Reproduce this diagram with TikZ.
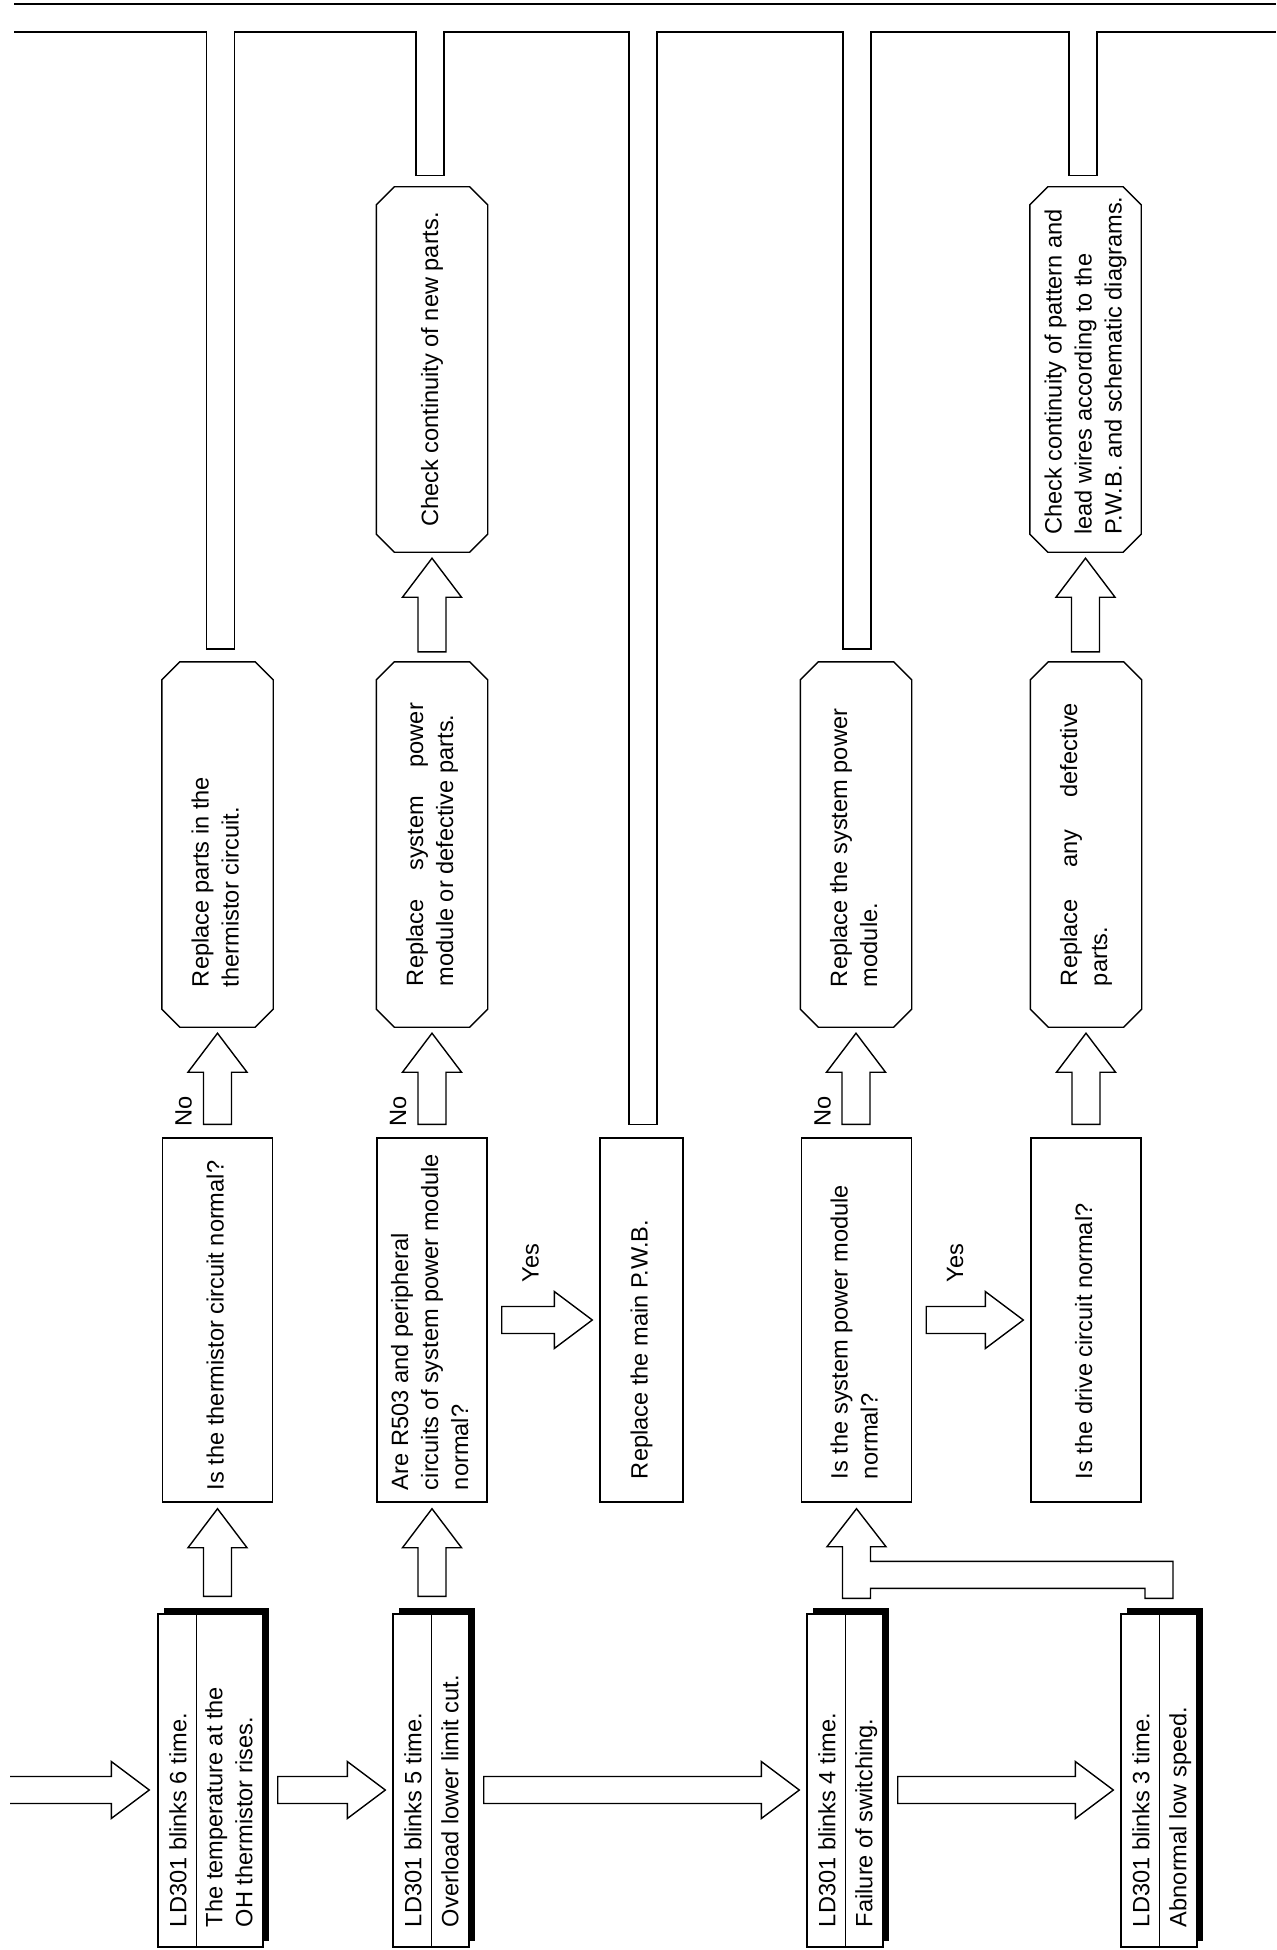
\documentclass[tikz,border=0pt]{standalone}
\usepackage{fontspec}
\setmainfont{Liberation Sans}
\usepackage{graphicx}
\usepackage{tikz}
\usetikzlibrary{calc,shadows}

\newcommand{\vlines}[1]{\rotatebox{90}{\begin{tabular}{@{}l@{}}#1\end{tabular}}}
\newcommand{\vleft}[2]{\rotatebox{90}{\makebox[#1][l]{\begin{tabular}{@{}l@{}}#2\end{tabular}}}}
\newcommand{\vjust}[2]{\rotatebox{90}{\parbox{#1}{#2}}}

\newcommand{\blockup}[3][12]{%
  \draw[blockarrow] let \p1=(#2.north), \p2=(#3.south) in
    (\x2-14pt,\y1+#1pt) -- (\x2-14pt,\y2-45pt) -- (\x2-29.5pt,\y2-45pt)
    -- (\x2,\y2-6pt) -- (\x2+29.5pt,\y2-45pt) -- (\x2+14pt,\y2-45pt)
    -- (\x2+14pt,\y1+#1pt) -- cycle;}
\newcommand{\blockright}[3][0]{%
  \draw[blockarrow] let \p1=(#2.east), \p2=(#3.west) in
    (\x1+14pt,\y2-#1pt+13.5pt) -- (\x2-45pt,\y2-#1pt+13.5pt) -- (\x2-45pt,\y2-#1pt+28.5pt)
    -- (\x2-7pt,\y2-#1pt) -- (\x2-45pt,\y2-#1pt-28.5pt) -- (\x2-45pt,\y2-#1pt-13.5pt)
    -- (\x1+14pt,\y2-#1pt-13.5pt) -- cycle;}

\tikzset{
  qbox/.style={draw, minimum width=110pt, minimum height=364pt, inner sep=0pt},
  rbox/.style={qbox, draw=none},
  ldbox/.style={draw, fill=white, minimum height=333pt, inner sep=0pt,
    drop shadow={shadow xshift=6pt, shadow yshift=6pt, fill=black, opacity=1}},
  blockarrow/.style={draw, line join=miter},
  txt/.style={inner sep=0pt}
}

\begin{document}
\begin{tikzpicture}[x=1pt, y=-1pt, line width=1.4pt, font=\fontsize{23.6}{30}\selectfont]
    \useasboundingbox (0,0) rectangle (1276,1950);

    \node[qbox] (q1) at (217.5,1320) {\vleft{340pt}{Is the thermistor circuit normal?}};
    \node[qbox] (q2) at (432,1320) {\vleft{340pt}{Are R503 and peripheral\\circuits of system power module\\normal?}};
    \node[qbox, minimum width=83pt] (pwb) at (641.5,1320) {\vleft{318pt}{Replace the main P.W.B.}};
    \node[qbox] (q3) at (856.5,1320) {\vleft{318pt}{Is the system power module\\normal?}};
    \node[qbox] (q4) at (1086,1320) {\vleft{318pt}{Is the drive circuit normal?}};

    \node[rbox] (r1) at (217.5,844.5) {\vleft{285pt}{Replace parts in the\\thermistor circuit.}};
    \node[rbox] (r2) at (432,844.5) {\vjust{283pt}{Replace system power\linebreak module or defective parts.}};
    \node[rbox] (r3) at (856,844.5) {\vleft{285pt}{Replace the system power\\module.}};
    \node[rbox] (r4) at (1086,844.5) {\vjust{283pt}{Replace any defective\linebreak parts.}};
    \node[rbox] (c1) at (432,369.5) {\vlines{Check continuity of new parts.}};
    \node[rbox] (c2) at (1085.5,369.5) {\vleft{330pt}{Check continuity of pattern and\\lead wires according to the\\P.W.B. and schematic diagrams.}};
    % cut corners
    \foreach \n in {r1,r2,r3,r4,c1,c2}
        \draw ([xshift=18pt]\n.north west) -- ([xshift=-18pt]\n.north east)
            -- ([yshift=-18pt]\n.north east) -- ([yshift=18pt]\n.south east)
            -- ([xshift=-18pt]\n.south east) -- ([xshift=18pt]\n.south west)
            -- ([yshift=18pt]\n.south west) -- ([yshift=-18pt]\n.north west) -- cycle;

    % LED blink codes
    \node[ldbox, minimum width=105pt] (ld1) at (210.5,1780.5) {};
    \node[ldbox, minimum width=76pt] (ld2) at (431,1780.5) {};
    \node[ldbox, minimum width=76pt] (ld3) at (845,1780.5) {};
    \node[ldbox, minimum width=76pt] (ld4) at (1159,1780.5) {};
    \foreach \n in {ld1,ld2,ld3,ld4}
        \draw ([xshift=39pt]\n.north west) -- ([xshift=39pt]\n.south west);

    \node[txt, anchor=south] (ld1a) at ($(ld1.south west)+(23,-20)$) {\vlines{LD301 blinks 6 time.}};
    \node[txt, anchor=south] (ld1b) at ($(ld1.south west)+(74,-20)$) {\vlines{The temperature at the\\OH thermistor rises.}};
    \node[txt, anchor=south] (ld2a) at ($(ld2.south west)+(23,-20)$) {\vlines{LD301 blinks 5 time.}};
    \node[txt, anchor=south] (ld2b) at ($(ld2.south west)+(60,-20)$) {\vlines{Overload lower limit cut.}};
    \node[txt, anchor=south] (ld3a) at ($(ld3.south west)+(23,-20)$) {\vlines{LD301 blinks 4 time.}};
    \node[txt, anchor=south] (ld3b) at ($(ld3.south west)+(60,-20)$) {\vlines{Failure of switching.}};
    \node[txt, anchor=south] (ld4a) at ($(ld4.south west)+(23,-20)$) {\vlines{LD301 blinks 3 time.}};
    \node[txt, anchor=south] (ld4b) at ($(ld4.south west)+(60,-20)$) {\vlines{Abnormal low speed.}};

    % pipes up to the bus
    \coordinate (bus) at (0,32);
    \foreach \n/\g/\d/\k in {r1/13/3/1, c1/11/-2/2, pwb/13/1.5/3, r3/13/1/4, c2/11/-2.5/5} {
        \coordinate (pl\k) at ($(\n.north)+(-14+\d,-\g)$);
        \coordinate (pr\k) at ($(\n.north)+(14+\d,-\g)$);
    }
    \draw[line width=2.2pt] (14,4) -- (1276,4);
    \draw (14,32) -| (pl1) -- (pr1) -- (pr1 |- bus) -| (pl2) -- (pr2) -- (pr2 |- bus)
        -| (pl3) -- (pr3) -- (pr3 |- bus) -| (pl4) -- (pr4) -- (pr4 |- bus)
        -| (pl5) -- (pr5) -- (pr5 |- bus) -- (1276,32);

    % block arrows
    \draw[blockarrow] let \p2=(ld1.west) in
        (10pt,\y2+4pt) -- (\x2-46pt,\y2+4pt) -- (\x2-46pt,\y2+19pt) -- (\x2-8pt,\y2-9.5pt)
        -- (\x2-46pt,\y2-38pt) -- (\x2-46pt,\y2-23pt) -- (10pt,\y2-23pt);
    \blockright[9.5]{ld1}{ld2}
    \blockright[9.5]{ld2}{ld3}
    \blockright[9.5]{ld3}{ld4}
    \blockup[17]{ld1}{q1}
    \blockup[17]{ld2}{q2}
    \draw[blockarrow] let \p1=(ld3.north), \p2=(q3.south), \p3=(ld4.north) in
        (\x2-14pt,\y1+15pt) -- (\x2-14pt,\y2-44pt) -- (\x2-29.5pt,\y2-44pt) -- (\x2,\y2-6pt)
        -- (\x2+29.5pt,\y2-44pt) -- (\x2+14pt,\y2-44pt) -- (\x2+14pt,\y1+52pt)
        -- (\x3+14pt,\y1+52pt) -- (\x3+14pt,\y3+15pt) -- (\x3-14pt,\y3+15pt)
        -- (\x3-14pt,\y1+25pt) -- (\x2+14pt,\y1+25pt) -- (\x2+14pt,\y1+15pt) -- cycle;
    \blockup[13]{q1}{r1}
    \blockup[13]{q2}{r2}
    \blockup[13]{q3}{r3}
    \blockup[13]{q4}{r4}
    \blockup[10]{r2}{c1}
    \blockup[10]{r4}{c2}
    \blockright{q2}{pwb}
    \blockright{q3}{q4}

    \node[txt] (no1) at ($(q1.north)+(-34,-26)$) {\rotatebox{90}{No}};
    \node[txt] (no2) at ($(q2.north)+(-34,-26)$) {\rotatebox{90}{No}};
    \node[txt] (no3) at ($(q3.north)+(-34,-26)$) {\rotatebox{90}{No}};
    \node[txt] (yes1) at ($(q2.east)+(43,-57)$) {\rotatebox{90}{Yes}};
    \node[txt] (yes2) at ($(q3.east)+(43,-57)$) {\rotatebox{90}{Yes}};
\end{tikzpicture}
\end{document}
